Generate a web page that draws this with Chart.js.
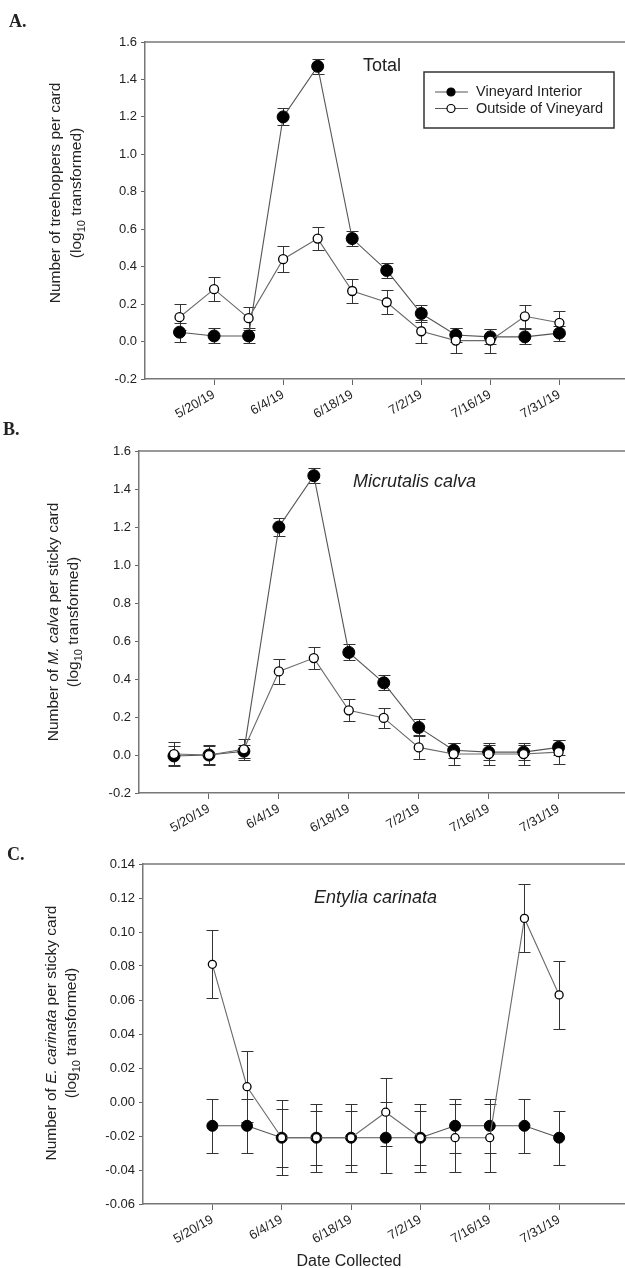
<!DOCTYPE html>
<html>
<head>
<meta charset="utf-8">
<script src="https://cdn.jsdelivr.net/npm/chart.js@4.4.1/dist/chart.umd.min.js"></script>
<style>
    html, body { margin: 0; padding: 0; background: #fff; overflow: hidden; }
    #wrap { position: relative; width: 625px; height: 1268px; }
    canvas { position: absolute; left: 0; }
</style>
</head>
<body>
<div id="wrap">
    <canvas id="chartA" width="625" height="420" style="top:0"></canvas>
    <canvas id="chartB" width="625" height="420" style="top:420px"></canvas>
    <canvas id="chartC" width="625" height="428" style="top:840px"></canvas>
</div>
<script>
// sampling dates as week index, labelled every other week
const weeks = [1, 2, 3, 4, 5, 6, 7, 8, 9, 10, 11, 12]
const weeksC = [2, 3, 4, 5, 6, 7, 8, 9, 10, 11, 12]
const tickWeeks = [2, 4, 6, 8, 10, 12]
const tickLabels = ['5/20/19', '6/4/19', '6/18/19', '7/2/19', '7/16/19', '7/31/19']

const yTicksAB = [-0.2, 0, 0.2, 0.4, 0.6, 0.8, 1.0, 1.2, 1.4, 1.6]
const yTicksC = [-0.06, -0.04, -0.02, 0, 0.02, 0.04, 0.06, 0.08, 0.10, 0.12, 0.14]

// A. total treehoppers
const totalInterior = [0.05, 0.03, 0.03, 1.20, 1.47, 0.55, 0.38, 0.15, 0.035, 0.025, 0.025, 0.045]
const totalInteriorSE = [0.05, 0.04, 0.04, 0.045, 0.04, 0.04, 0.04, 0.045, 0.04, 0.04, 0.04, 0.04]
const totalOutside = [0.13, 0.28, 0.125, 0.44, 0.55, 0.27, 0.21, 0.055, 0.005, 0.005, 0.135, 0.10]
const totalOutsideSE = [0.07, 0.065, 0.062, 0.07, 0.062, 0.064, 0.064, 0.062, 0.067, 0.064, 0.062, 0.062]

// B. Micrutalis calva
const calvaInterior = [-0.005, 0.0, 0.02, 1.20, 1.47, 0.54, 0.38, 0.145, 0.025, 0.015, 0.015, 0.04]
const calvaInteriorSE = [0.05, 0.045, 0.035, 0.048, 0.04, 0.042, 0.04, 0.042, 0.04, 0.04, 0.04, 0.04]
const calvaOutside = [0.005, 0.0, 0.03, 0.44, 0.51, 0.235, 0.195, 0.04, 0.005, 0.005, 0.005, 0.015]
const calvaOutsideSE = [0.065, 0.055, 0.055, 0.065, 0.06, 0.058, 0.055, 0.06, 0.06, 0.06, 0.06, 0.062]

// C. Entylia carinata
const carinataInterior = [-0.014, -0.014, -0.021, -0.021, -0.021, -0.021, -0.021, -0.014, -0.014, -0.014, -0.021]
const carinataInteriorSE = [0.016, 0.016, 0.017, 0.016, 0.016, 0.021, 0.016, 0.016, 0.016, 0.016, 0.016]
const carinataOutside = [0.081, 0.009, -0.021, -0.021, -0.021, -0.006, -0.021, -0.021, -0.021, 0.108, 0.063]
const carinataOutsideSE = [0.02, 0.021, 0.022, 0.02, 0.02, 0.02, 0.02, 0.02, 0.02, 0.02, 0.02]

const SANS = '"Liberation Sans", Arial, sans-serif'
const TEXT = '#222'

Chart.defaults.animation = false
Chart.defaults.font.family = SANS

const errorBars = {
    id: 'errorBars',
    beforeDatasetsDraw(chart) {
        const ctx = chart.ctx
        const y = chart.scales.y
        ctx.save()
        ctx.strokeStyle = '#333'
        ctx.lineWidth = 1
        chart.data.datasets.forEach((ds, i) => {
            chart.getDatasetMeta(i).data.forEach((pt, j) => {
                const v = ds.data[j].y
                const e = ds.errors[j]
                const top = Math.round(y.getPixelForValue(v + e)) + 0.5
                const bot = Math.round(y.getPixelForValue(v - e)) + 0.5
                const x = Math.round(pt.x) + 0.5
                ctx.beginPath()
                ctx.moveTo(x, top)
                ctx.lineTo(x, bot)
                ctx.moveTo(x - 6, top)
                ctx.lineTo(x + 6, top)
                ctx.moveTo(x - 6, bot)
                ctx.lineTo(x + 6, bot)
                ctx.stroke()
            })
        })
        ctx.restore()
    },
}

function richWidth(ctx, parts, size) {
    let w = 0
    parts.forEach(p => {
        ctx.font = (p.italic ? 'italic ' : '') + (p.sub ? size * 0.72 : size) + 'px ' + SANS
        p.w = ctx.measureText(p.t).width
        w += p.w
    })
    return w
}

function drawRich(ctx, parts, size, x0, y0) {
    let x = x0
    parts.forEach(p => {
        ctx.font = (p.italic ? 'italic ' : '') + (p.sub ? size * 0.72 : size) + 'px ' + SANS
        ctx.fillText(p.t, x, y0 + (p.sub ? size * 0.3 : 0))
        x += p.w
    })
}

const decorations = {
    id: 'decorations',
    afterDraw(chart, args, opts) {
        const ctx = chart.ctx
        const area = chart.chartArea
        ctx.save()

        // top frame line
        ctx.strokeStyle = '#777'
        ctx.lineWidth = 1.5
        ctx.beginPath()
        ctx.moveTo(area.left, area.top)
        ctx.lineTo(chart.width, area.top)
        ctx.stroke()

        ctx.fillStyle = TEXT
        ctx.textBaseline = 'middle'

        // y axis title, rotated, two lines
        const yt = opts.yTitle
        ctx.save()
        ctx.translate(0, yt.cy)
        ctx.rotate(-Math.PI / 2)
        yt.lines.forEach((line, i) => {
            const w = richWidth(ctx, line, yt.size)
            ctx.save()
            ctx.translate(0, yt.xs[i])
            drawRich(ctx, line, yt.size, -w / 2, 0)
            ctx.restore()
        })
        ctx.restore()

        // free text: panel letter, species name, axis title
        ctx.textBaseline = 'alphabetic'
        opts.notes.forEach(n => {
            ctx.font = n.font
            ctx.textAlign = n.align || 'left'
            ctx.fillText(n.text, n.x, n.y)
        })

        if (opts.legend) {
            const lg = opts.legend
            ctx.strokeStyle = '#333'
            ctx.lineWidth = 1.5
            ctx.strokeRect(lg.x, lg.y, lg.w, lg.h)
            ctx.textAlign = 'left'
            ctx.textBaseline = 'middle'
            ctx.font = '14.5px ' + SANS
            chart.data.datasets.slice().reverse().forEach((ds, i) => {
                const ry = lg.y + 20 + i * 16.5
                ctx.strokeStyle = '#555'
                ctx.lineWidth = 1
                ctx.beginPath()
                ctx.moveTo(lg.x + 11, ry)
                ctx.lineTo(lg.x + 44, ry)
                ctx.stroke()
                ctx.beginPath()
                ctx.arc(lg.x + 27, ry, 4, 0, Math.PI * 2)
                ctx.fillStyle = ds.pointBackgroundColor
                ctx.fill()
                ctx.strokeStyle = '#000'
                ctx.lineWidth = 1.2
                ctx.stroke()
                ctx.fillStyle = TEXT
                ctx.fillText(ds.label, lg.x + 52, ry)
            })
        }
        ctx.restore()
    },
}

function series(xs, ys) {
    return xs.map((x, i) => ({ x: x, y: ys[i] }))
}

function makeChart(id, cfg) {
    const dec = cfg.yTicks[1] - cfg.yTicks[0] < 0.1 ? 2 : 1
    return new Chart(document.getElementById(id), {
        type: 'line',
        data: {
            datasets: [
                {
                    label: 'Outside of Vineyard',
                    data: series(cfg.xs, cfg.outside),
                    errors: cfg.outsideSE,
                    borderColor: '#6a6a6a',
                    borderWidth: 1.1,
                    pointRadius: cfg.openRadius,
                    pointBackgroundColor: '#fff',
                    pointBorderColor: '#000',
                    pointBorderWidth: 1.3,
                    order: 0,
                },
                {
                    label: 'Vineyard Interior',
                    data: series(cfg.xs, cfg.interior),
                    errors: cfg.interiorSE,
                    borderColor: '#555',
                    borderWidth: 1.1,
                    pointRadius: cfg.filledRadius,
                    pointBackgroundColor: '#000',
                    pointBorderColor: '#000',
                    pointBorderWidth: 1,
                    order: 1,
                },
            ],
        },
        options: {
            responsive: false,
            devicePixelRatio: 1,
            layout: {
                autoPadding: false,
                padding: { top: cfg.top, left: 0, right: 0, bottom: 0 },
            },
            plugins: {
                legend: { display: false },
                tooltip: { enabled: false },
                decorations: {
                    yTitle: cfg.yTitle,
                    notes: cfg.notes,
                    legend: cfg.legend,
                },
            },
            scales: {
                x: {
                    type: 'linear',
                    min: 0,
                    max: 13.9,
                    afterBuildTicks: s => { s.ticks = tickWeeks.map(v => ({ value: v })) },
                    afterFit: s => {
                        s.height = cfg.xHeight
                        s.paddingLeft = 0
                        s.paddingRight = 0
                    },
                    ticks: {
                        autoSkip: false,
                        minRotation: 30,
                        maxRotation: 30,
                        padding: 2,
                        color: TEXT,
                        font: { size: 13 },
                        callback: v => tickLabels[tickWeeks.indexOf(v)],
                    },
                    grid: { drawOnChartArea: false, tickLength: 6, color: '#666', tickWidth: 1 },
                    border: { color: '#777', width: 1.5 },
                },
                y: {
                    min: cfg.yTicks[0],
                    max: cfg.yTicks[cfg.yTicks.length - 1],
                    afterBuildTicks: s => { s.ticks = cfg.yTicks.map(v => ({ value: v })) },
                    afterFit: s => { s.width = cfg.left },
                    ticks: {
                        padding: 4,
                        color: TEXT,
                        font: { size: 13 },
                        callback: v => v.toFixed(dec),
                    },
                    grid: { drawOnChartArea: false, tickLength: 4, color: '#666', tickWidth: 1 },
                    border: { color: '#777', width: 1.5 },
                },
            },
        },
        plugins: [errorBars, decorations],
    })
}

const LETTER = 'bold 18px "Liberation Serif", "Times New Roman", serif'
const SPECIES = '18px ' + SANS
const SPECIES_IT = 'italic 18px ' + SANS
const log10Line = [{ t: '(log' }, { t: '10', sub: true }, { t: ' transformed)' }]

makeChart('chartA', {
    xs: weeks,
    interior: totalInterior,
    interiorSE: totalInteriorSE,
    outside: totalOutside,
    outsideSE: totalOutsideSE,
    yTicks: yTicksAB,
    top: 42,
    left: 145,
    xHeight: 41,
    filledRadius: 6,
    openRadius: 4.5,
    yTitle: {
        size: 15.5,
        cy: 193,
        xs: [56, 77],
        lines: [[{ t: 'Number of treehoppers per card' }], log10Line],
    },
    notes: [
        { text: 'A.', x: 9, y: 27, font: LETTER },
        { text: 'Total', x: 363, y: 71, font: SPECIES },
    ],
    legend: { x: 424, y: 72, w: 190, h: 56 },
})

makeChart('chartB', {
    xs: weeks,
    interior: calvaInterior,
    interiorSE: calvaInteriorSE,
    outside: calvaOutside,
    outsideSE: calvaOutsideSE,
    yTicks: yTicksAB,
    top: 31,
    left: 139,
    xHeight: 47,
    filledRadius: 6,
    openRadius: 4.5,
    yTitle: {
        size: 15.5,
        cy: 202,
        xs: [54, 74],
        lines: [[{ t: 'Number of ' }, { t: 'M. calva', italic: true }, { t: ' per sticky card' }], log10Line],
    },
    notes: [
        { text: 'B.', x: 3, y: 15, font: LETTER },
        { text: 'Micrutalis calva', x: 353, y: 67, font: SPECIES_IT },
    ],
})

makeChart('chartC', {
    xs: weeksC,
    interior: carinataInterior,
    interiorSE: carinataInteriorSE,
    outside: carinataOutside,
    outsideSE: carinataOutsideSE,
    yTicks: yTicksC,
    top: 24,
    left: 143,
    xHeight: 64,
    filledRadius: 5.5,
    openRadius: 4,
    yTitle: {
        size: 15.5,
        cy: 193,
        xs: [52, 72],
        lines: [[{ t: 'Number of ' }, { t: 'E. carinata', italic: true }, { t: ' per sticky card' }], log10Line],
    },
    notes: [
        { text: 'C.', x: 7, y: 20, font: LETTER },
        { text: 'Entylia carinata', x: 314, y: 63, font: SPECIES_IT },
        { text: 'Date Collected', x: 349, y: 1266 - 840, font: '16px ' + SANS, align: 'center' },
    ],
})
</script>
</body>
</html>
